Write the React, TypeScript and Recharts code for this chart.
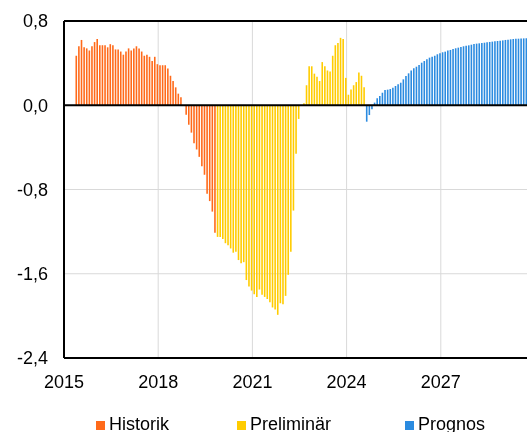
import React from "react";
import {
  BarChart,
  Bar,
  XAxis,
  YAxis,
  CartesianGrid,
  ReferenceLine,
  Legend,
} from "recharts";

// monthly values, first month given as index from Jan 2015
const historikStart = 4;
const historik = [
  0.47, 0.56, 0.62, 0.55, 0.54, 0.52, 0.56, 0.6, 0.63, 0.57, 0.57, 0.57, 0.55,
  0.58, 0.57, 0.53, 0.53, 0.51, 0.48, 0.51, 0.54, 0.52, 0.54, 0.56, 0.54, 0.51,
  0.47, 0.48, 0.46, 0.42, 0.46, 0.39, 0.38, 0.38, 0.38, 0.35, 0.28, 0.23, 0.17,
  0.11, 0.075, 0, -0.09, -0.185, -0.26, -0.36, -0.42, -0.49, -0.58, -0.66,
  -0.84, -0.91, -1.01, -1.21,
];

const preliminarStart = 58;
const preliminar = [
  -1.25, -1.25, -1.27, -1.31, -1.33, -1.36, -1.4, -1.39, -1.47, -1.5, -1.49,
  -1.66, -1.72, -1.76, -1.795, -1.82, -1.75, -1.8, -1.82, -1.84, -1.87, -1.92,
  -1.94, -1.99, -1.88, -1.89, -1.81, -1.61, -1.39, -1.0, -0.46, -0.13, 0, 0.02,
  0.19, 0.37, 0.37, 0.3, 0.27, 0.23, 0.41, 0.37, 0.33, 0.32, 0.47, 0.57, 0.59,
  0.64, 0.63, 0.26, 0.1, 0.15, 0.19, 0.22, 0.31, 0.28, 0.17,
];

const prognosStart = 115;
const prognos = [
  -0.156, -0.093, -0.039, 0.025, 0.066, 0.088, 0.119, 0.145, 0.148, 0.154,
  0.167, 0.183, 0.199, 0.214, 0.246, 0.278, 0.303, 0.329, 0.351, 0.366, 0.382,
  0.404, 0.42, 0.436, 0.452, 0.461, 0.47, 0.484, 0.493, 0.503, 0.509, 0.519,
  0.525, 0.534, 0.541, 0.547, 0.553, 0.56, 0.566, 0.569, 0.575, 0.582, 0.585,
  0.588, 0.591, 0.594, 0.598, 0.601, 0.604, 0.607, 0.61, 0.613, 0.616, 0.62,
  0.623, 0.626, 0.629, 0.632, 0.632, 0.635, 0.635, 0.637,
];

const yearTicks = [2015, 2018, 2021, 2024, 2027];
const valueTicks = [0.8, 0, -0.8, -1.6, -2.4];

const series = [
  { key: "historik", name: "Historik", color: "#ff6a1a", start: historikStart, values: historik },
  { key: "preliminar", name: "Preliminär", color: "#ffcc00", start: preliminarStart, values: preliminar },
  { key: "prognos", name: "Prognos", color: "#2b8be0", start: prognosStart, values: prognos },
];

const data: Record<string, number>[] = [];
series.forEach((s) => {
  s.values.forEach((v, i) => {
    data.push({ t: 2015 + (s.start + i + 0.5) / 12, [s.key]: v });
  });
});

const fmt = (v: number) => v.toFixed(1).replace(".", ",").replace("-0,0", "0,0");

const font = "'Liberation Sans', Arial, sans-serif";

// left offsets of the legend entries
const legendLeft = [0, 141, 309];

function LegendRow(props: any) {
  const items = props.payload || [];
  return (
    <div style={{ position: "relative", width: 400, height: 18, fontFamily: font, fontSize: 18, lineHeight: "18px", color: "#000" }}>
      {items.map((it: any, i: number) => (
        <span key={it.value} style={{ position: "absolute", left: legendLeft[i], top: 0, whiteSpace: "nowrap" }}>
          <span
            style={{
              display: "inline-block",
              width: 9,
              height: 9,
              background: it.color,
              marginRight: 4,
            }}
          />
          {it.value}
        </span>
      ))}
    </div>
  );
}

export default function App() {
  // fixed box: the plot runs past the right edge like the original, without scrollbars
  return (
    <div style={{ position: "fixed", left: 8, top: 8, width: 519, height: 424, overflow: "hidden" }}>
      <BarChart
        width={540}
        height={440}
        data={data}
        stackOffset="sign"
        margin={{ top: 13, right: 13, bottom: 60, left: 0 }}
        style={{ fontFamily: font }}
      >
        <CartesianGrid stroke="#d9d9d9" strokeWidth={1} />
        <XAxis
          dataKey="t"
          type="number"
          domain={[2015, 2030]}
          ticks={yearTicks}
          allowDataOverflow
          tickFormatter={(v) => String(v)}
          tickLine={false}
          tickMargin={11}
          height={30}
          axisLine={{ stroke: "#000", strokeWidth: 2 }}
          tick={{ fill: "#000", fontSize: 18 }}
        />
        <YAxis
          type="number"
          domain={[-2.4, 0.8]}
          ticks={valueTicks}
          tickFormatter={fmt}
          width={56}
          tickLine={false}
          tickMargin={10}
          axisLine={{ stroke: "#000", strokeWidth: 2 }}
          tick={{ fill: "#000", fontSize: 18 }}
        />
        {series.map((s) => (
          <Bar
            key={s.key}
            dataKey={s.key}
            name={s.name}
            stackId="m"
            fill={s.color}
            barSize={1.6}
            isAnimationActive={false}
          />
        ))}
        <ReferenceLine y={0.8} stroke="#000" strokeWidth={2} />
        <ReferenceLine y={0} stroke="#000" strokeWidth={2} />
        <Legend
          layout="horizontal"
          verticalAlign="middle"
          align="center"
          content={LegendRow}
          wrapperStyle={{ top: 407, left: 88, width: "auto", height: "auto" }}
        />
      </BarChart>
    </div>
  );
}
